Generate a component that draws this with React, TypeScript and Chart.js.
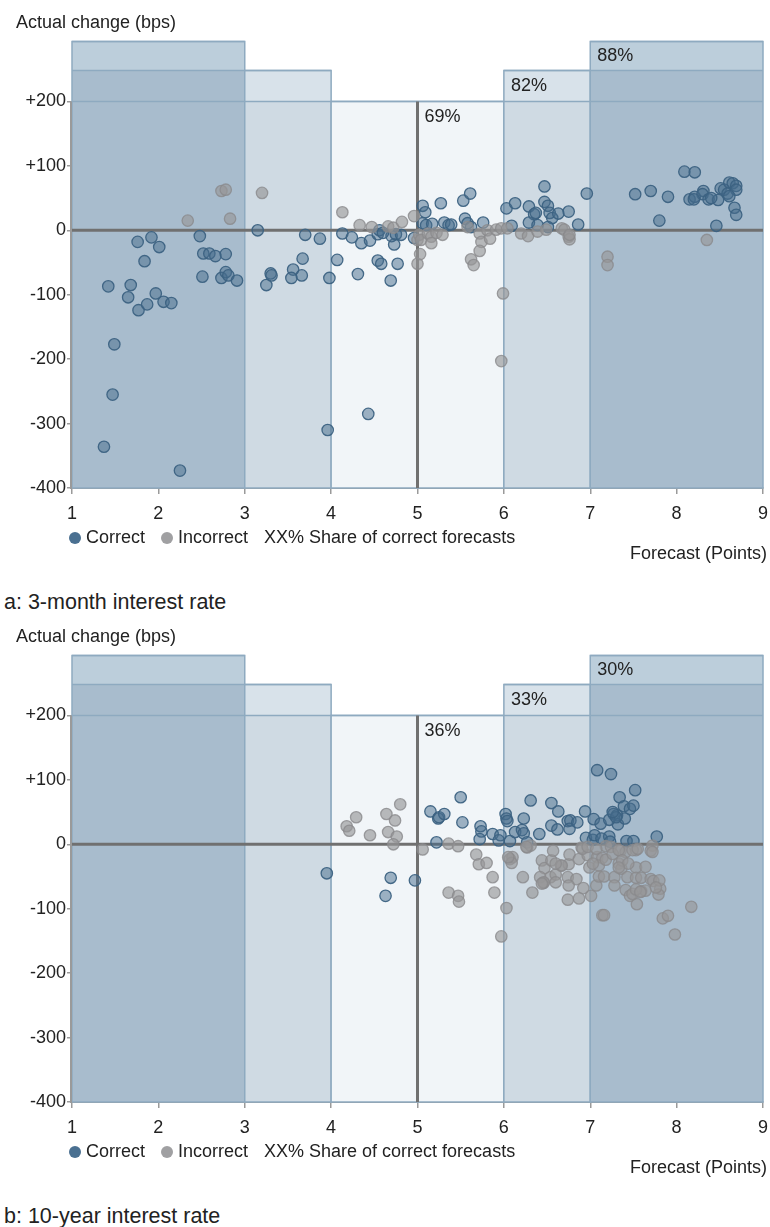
import React, { useEffect, useRef } from "react";
import { Chart, registerables } from "chart.js";

Chart.register(...registerables);

// ---------- data ----------
const regionEdges = [1, 3, 4, 6, 7, 9];
const regionTops = [293, 248, 200, 248, 293];
const headerLevels = [200, 248, 293];

const pctAnchors = [5, 6, 7];
const pct3m = ["69%", "82%", "88%"];
const pct10y = ["36%", "33%", "30%"];

const xTicks = [1, 2, 3, 4, 5, 6, 7, 8, 9];
const yTicks = [-400, -300, -200, -100, 0, 100, 200];

const correct3m: [number, number][] = [
  [1.42, -87], [1.68, -85], [1.65, -104], [1.77, -124], [1.87, -115], [1.97, -98], [2.06, -111], [2.15, -113],
  [1.76, -18], [1.92, -11], [2.01, -26], [1.84, -48], [2.48, -9], [2.52, -36], [2.59, -36], [2.66, -40],
  [2.78, -37], [2.51, -72], [2.73, -74], [2.78, -65], [2.81, -70], [2.91, -78],
  [1.49, -177], [1.47, -255], [1.37, -336], [2.25, -373],
  [3.15, 0], [3.25, -85], [3.30, -67], [3.31, -70], [3.56, -61], [3.54, -74], [3.66, -70], [3.67, -44],
  [3.70, -7], [3.87, -13], [3.98, -74], [3.96, -310],
  [4.07, -46], [4.13, -5], [4.24, -11], [4.31, -68], [4.35, -20], [4.45, -16], [4.54, -6], [4.54, -47],
  [4.58, -52], [4.69, -78], [4.73, -22], [4.77, -52], [4.70, -9], [4.75, -6], [4.81, -7], [4.96, -12],
  [4.43, -285], [4.56, 0], [4.60, -4],
  [5.06, 38], [5.09, 28], [5.27, 42], [5.06, 11], [5.10, 8], [5.17, 10], [5.31, 12], [5.36, 8], [5.39, 9],
  [5.53, 46], [5.61, 57], [5.55, 18], [5.58, 11], [5.62, 5], [5.76, 12],
  [6.03, 34], [6.13, 42], [6.09, 7], [6.29, 37], [6.35, 25], [6.37, 27], [6.29, 12], [6.39, 8], [6.47, 68],
  [6.47, 44], [6.51, 38], [6.53, 27], [6.56, 19], [6.63, 26], [6.75, 29], [6.51, 5], [6.86, 9], [6.96, 57],
  [7.52, 56], [7.70, 61], [7.90, 52], [7.80, 15], [8.09, 91], [8.21, 90], [8.15, 48], [8.21, 52], [8.31, 61],
  [8.30, 56], [8.37, 48], [8.48, 47], [8.51, 65], [8.55, 63], [8.61, 74], [8.65, 73], [8.69, 69], [8.59, 57],
  [8.69, 63], [8.61, 53], [8.67, 35], [8.69, 24], [8.46, 7], [8.20, 48], [8.40, 50],
];

const incorrect3m: [number, number][] = [
  [2.34, 15], [2.73, 61], [2.78, 63], [2.83, 18], [3.20, 58],
  [4.13, 28], [4.33, 8], [4.47, 5], [4.66, 6], [4.72, 4], [4.82, 13], [4.96, 22], [5.00, -15], [5.00, -52],
  [5.02, -7], [5.04, -15], [5.12, -5], [5.16, -10], [5.16, -20], [5.22, -4], [5.29, -7], [5.03, -37],
  [5.58, 5], [5.72, -5], [5.74, -18], [5.72, -32], [5.81, 0], [5.84, -13], [5.91, 1], [5.97, 3], [6.04, 3],
  [5.62, -45], [5.65, -54],
  [6.20, -5], [6.28, -9], [6.39, -2], [6.49, 1], [6.67, 3], [6.70, 1], [6.75, -10], [6.76, -14], [6.76, -7],
  [7.20, -41], [7.20, -54], [8.35, -15], [5.99, -98], [5.97, -203],
];

const correct10y: [number, number][] = [
  [3.95, -45], [4.69, -52], [4.63, -80], [4.97, -56],
  [5.15, 51], [5.24, 40], [5.25, 42], [5.31, 47], [5.50, 73], [5.52, 34], [5.22, 3], [5.73, 28], [5.74, 20],
  [5.72, 8], [5.87, 16], [5.96, 14], [5.94, 6],
  [6.02, 47], [6.03, 40], [6.04, 36], [6.07, 5], [6.13, 19], [6.21, 22], [6.23, 17], [6.23, 40], [6.31, 68],
  [6.27, 3], [6.41, 16], [6.55, 64], [6.55, 29], [6.63, 51], [6.62, 23], [6.74, 36], [6.77, 37], [6.76, 24],
  [6.85, 34], [6.94, 51], [6.95, 10],
  [7.04, 39], [7.12, 32], [7.03, 7], [7.05, 14], [7.08, 115], [7.24, 109], [7.13, 9], [7.22, 12], [7.23, 4],
  [7.27, 47], [7.31, 45], [7.32, 31], [7.22, 38], [7.40, 40], [7.34, 73], [7.39, 59], [7.46, 55], [7.50, 60],
  [7.52, 84], [7.42, 5], [7.50, 5], [7.77, 12], [7.30, 42], [7.26, 50],
];

const incorrect10y: [number, number][] = [
  [4.18, 28], [4.21, 21], [4.29, 42], [4.45, 14], [4.64, 47], [4.74, 37], [4.80, 62], [4.66, 19], [4.76, 12],
  [4.72, 0],
  [5.06, -8], [5.36, 1], [5.47, -3], [5.68, -16], [5.71, -31], [5.80, -29], [5.87, -51], [5.89, -75],
  [5.36, -75], [5.47, -80], [5.48, -89], [6.03, -99], [5.97, -143],
  [6.07, -23], [6.10, -20], [6.09, -29], [6.22, -51], [6.33, -75], [6.27, -5], [6.31, -2], [6.44, -25],
  [6.47, -37], [6.55, -25], [6.42, -51], [6.46, -60], [6.57, -10], [6.05, -20], [6.26, -4],
  [6.66, -33], [6.75, -31], [6.76, -16], [6.90, -5], [6.87, -23], [6.97, -17], [6.99, -36], [7.08, -20],
  [7.14, -21], [7.10, -33], [7.18, -3], [7.24, -4], [7.35, -10], [7.41, -12], [7.53, -9], [7.72, -2], [7.70, -10],
  [6.54, -51], [6.60, -47], [6.46, -59], [6.74, -51], [6.84, -54], [6.75, -64], [6.74, -86], [6.87, -84],
  [6.92, -68], [7.01, -80], [7.07, -64], [7.10, -50], [7.16, -50], [7.28, -51], [7.33, -30], [7.36, -38],
  [7.43, -51], [7.28, -64], [7.41, -71], [7.46, -80], [7.53, -36], [7.64, -35], [7.53, -52], [7.59, -52],
  [7.70, -54], [7.73, -57], [7.59, -73], [7.54, -93], [7.81, -69], [7.79, -78], [7.14, -110], [7.16, -110],
  [7.84, -115], [7.90, -111], [8.17, -97], [7.98, -140],
  [6.91, -7], [6.97, -4], [7.07, -7], [7.03, -30], [7.18, -24], [7.26, -15], [7.33, -9], [7.49, -9], [7.55, -7],
  [7.72, -12], [7.37, -25], [7.44, -30], [7.33, -36], [7.80, -56], [7.76, -67], [7.64, -72], [7.49, -77],
  [6.60, -59], [6.67, -33], [6.60, -30], [6.44, -61], [7.53, -70], [7.58, -74],
];

// ---------- styles ----------
const FONT = "'Liberation Sans', Arial, Helvetica, sans-serif";
const TEXT = "#222";
const OUTER_BODY = "#a8bccd";
const OUTER_HEAD = "#bccedb";
const MID_BODY = "#cfdae3";
const MID_HEAD = "#d8e2ea";
const CENTER_BODY = "#f1f5f8";
const BOX_LINE = "#8eaac0";
const AXIS_DARK = "#707070";
const AXIS_GREY = "#9a9a9a";
const CORRECT_FILL = "rgba(70,108,140,0.5)";
const CORRECT_LINE = "rgba(60,98,130,0.95)";
const INCORRECT_FILL = "rgba(150,150,152,0.65)";
const INCORRECT_LINE = "rgba(138,138,140,0.8)";

function fmtY(v: number) {
  return v > 0 ? "+" + v : String(v);
}

function makePlugin(pcts: string[]) {
  return {
    id: "bands",
    beforeDatasetsDraw(chart: any) {
      const { ctx, scales } = chart;
      const xs = scales.x;
      const ys = scales.y;
      const yMin = yTicks[0];
      ctx.save();
      for (let i = 0; i < regionTops.length; i++) {
        const x0 = xs.getPixelForValue(regionEdges[i]);
        const x1 = xs.getPixelForValue(regionEdges[i + 1]);
        const top = regionTops[i];
        const yb = ys.getPixelForValue(yMin);
        const yt = ys.getPixelForValue(top);
        const isOuter = top >= headerLevels[2];
        const isMid = top === headerLevels[1];
        ctx.fillStyle = isOuter ? OUTER_BODY : isMid ? MID_BODY : CENTER_BODY;
        ctx.fillRect(x0, yt, x1 - x0, yb - yt);
        if (isOuter || isMid) {
          const lvlIdx = headerLevels.indexOf(top);
          const hb = ys.getPixelForValue(headerLevels[lvlIdx - 1]);
          ctx.fillStyle = isOuter ? OUTER_HEAD : MID_HEAD;
          ctx.fillRect(x0, yt, x1 - x0, hb - yt);
        }
        ctx.strokeStyle = BOX_LINE;
        ctx.lineWidth = 1.5;
        ctx.strokeRect(x0, yt, x1 - x0, yb - yt);
        for (const lv of headerLevels) {
          if (lv <= top) {
            const py = ys.getPixelForValue(lv);
            ctx.beginPath();
            ctx.moveTo(x0, py);
            ctx.lineTo(x1, py);
            ctx.stroke();
          }
        }
      }
      // percentage labels
      ctx.fillStyle = TEXT;
      ctx.font = `18px ${FONT}`;
      ctx.textAlign = "left";
      ctx.textBaseline = "middle";
      for (let k = 0; k < pctAnchors.length; k++) {
        const ax = pctAnchors[k];
        const ri = regionEdges.findIndex((e, i) => i < regionTops.length && ax >= e && ax < regionEdges[i + 1]);
        const top = regionTops[ri];
        const lvlIdx = headerLevels.indexOf(top);
        let py;
        if (lvlIdx > 0) {
          py = (ys.getPixelForValue(top) + ys.getPixelForValue(headerLevels[lvlIdx - 1])) / 2;
        } else {
          py = ys.getPixelForValue(top) + 16;
        }
        ctx.fillText(pcts[k], xs.getPixelForValue(ax) + 7, py);
      }
      // zero line and centre line
      ctx.strokeStyle = AXIS_DARK;
      ctx.lineWidth = 3;
      ctx.beginPath();
      ctx.moveTo(xs.getPixelForValue(regionEdges[0]), ys.getPixelForValue(0));
      ctx.lineTo(xs.getPixelForValue(regionEdges[regionEdges.length - 1]), ys.getPixelForValue(0));
      ctx.stroke();
      ctx.beginPath();
      ctx.moveTo(xs.getPixelForValue(5), ys.getPixelForValue(headerLevels[0]));
      ctx.lineTo(xs.getPixelForValue(5), ys.getPixelForValue(yMin));
      ctx.stroke();
      // left axis
      ctx.strokeStyle = AXIS_GREY;
      ctx.lineWidth = 2;
      ctx.beginPath();
      ctx.moveTo(xs.left - 1, ys.getPixelForValue(headerLevels[0]));
      ctx.lineTo(xs.left - 1, ys.getPixelForValue(yMin) + 1);
      ctx.stroke();
      ctx.restore();
    },
    afterDraw(chart: any) {
      const { ctx, chartArea } = chart;
      ctx.save();
      ctx.fillStyle = TEXT;
      ctx.font = `18px ${FONT}`;
      ctx.textBaseline = "middle";
      ctx.textAlign = "left";
      ctx.fillText("Actual change (bps)", 16, 23);
      // legend
      const ly = chartArea.bottom + 50;
      let lx = 69;
      const items = [
        { c: "#4a7091", t: "Correct" },
        { c: "#a0a0a2", t: "Incorrect" },
      ];
      for (const it of items) {
        ctx.fillStyle = it.c;
        ctx.beginPath();
        ctx.arc(lx + 6, ly, 6, 0, Math.PI * 2);
        ctx.fill();
        lx += 17;
        ctx.fillStyle = TEXT;
        ctx.fillText(it.t, lx, ly);
        lx += ctx.measureText(it.t).width + 16;
      }
      ctx.fillText("XX% Share of correct forecasts", lx, ly);
      ctx.textAlign = "right";
      ctx.fillText("Forecast (Points)", 767, chartArea.bottom + 66);
      ctx.restore();
    },
  };
}

function ScatterPanel(props: {
  correct: [number, number][];
  incorrect: [number, number][];
  pcts: string[];
  caption: string;
}) {
  const ref = useRef<HTMLCanvasElement | null>(null);
  useEffect(() => {
    if (!ref.current) return;
    const chart = new Chart(ref.current, {
      type: "scatter",
      data: {
        datasets: [
          {
            label: "Incorrect",
            data: props.incorrect.map(([x, y]) => ({ x, y })),
            backgroundColor: INCORRECT_FILL,
            borderColor: INCORRECT_LINE,
            borderWidth: 1.3,
            pointRadius: 5.7,
          },
          {
            label: "Correct",
            data: props.correct.map(([x, y]) => ({ x, y })),
            backgroundColor: CORRECT_FILL,
            borderColor: CORRECT_LINE,
            borderWidth: 1.3,
            pointRadius: 5.7,
          },
        ],
      },
      options: {
        animation: false,
        responsive: false,
        devicePixelRatio: 1,
        layout: { padding: { top: 37, left: 0, right: 6, bottom: 62 } },
        plugins: { legend: { display: false }, tooltip: { enabled: false } },
        events: [],
        scales: {
          x: {
            type: "linear",
            min: xTicks[0],
            max: xTicks[xTicks.length - 1],
            afterBuildTicks: (s: any) => {
              s.ticks = xTicks.map((v) => ({ value: v }));
            },
            afterFit: (s: any) => {
              s.height = 40;
              s.paddingRight = 0;
              s.paddingLeft = 0;
            },
            ticks: { font: { size: 18, family: FONT }, color: TEXT, padding: 9, maxRotation: 0 },
            grid: { drawOnChartArea: false, drawTicks: true, tickLength: 6, color: AXIS_GREY, lineWidth: 1.5 },
            border: { display: true, color: AXIS_GREY, width: 2 },
          },
          y: {
            type: "linear",
            min: -400,
            max: 300,
            afterBuildTicks: (s: any) => {
              s.ticks = yTicks.map((v) => ({ value: v }));
            },
            afterFit: (s: any) => {
              s.width = 72;
            },
            ticks: {
              font: { size: 18, family: FONT },
              color: TEXT,
              padding: 1,
              callback: (v: any) => fmtY(Number(v)),
            },
            grid: { drawOnChartArea: false, drawTicks: true, tickLength: 5, color: AXIS_GREY, lineWidth: 1.5 },
            border: { display: false },
          },
        },
      },
      plugins: [makePlugin(props.pcts)],
    } as any);
    return () => chart.destroy();
  }, []);
  return (
    <div style={{ width: 770, height: 614 }}>
      <canvas ref={ref} width={770} height={590} style={{ display: "block", width: 770, height: 590 }} />
      <div
        style={{
          fontFamily: FONT,
          fontSize: 21.5,
          lineHeight: "24px",
          height: 24,
          paddingLeft: 4,
          color: TEXT,
          whiteSpace: "nowrap",
        }}
      >
        {props.caption}
      </div>
    </div>
  );
}

export default function App() {
  return (
    <div style={{ position: "absolute", left: 0, top: 0, width: 770, height: 1227, background: "#fff" }}>
      <ScatterPanel correct={correct3m} incorrect={incorrect3m} pcts={pct3m} caption="a: 3-month interest rate" />
      <ScatterPanel correct={correct10y} incorrect={incorrect10y} pcts={pct10y} caption="b: 10-year interest rate" />
    </div>
  );
}
